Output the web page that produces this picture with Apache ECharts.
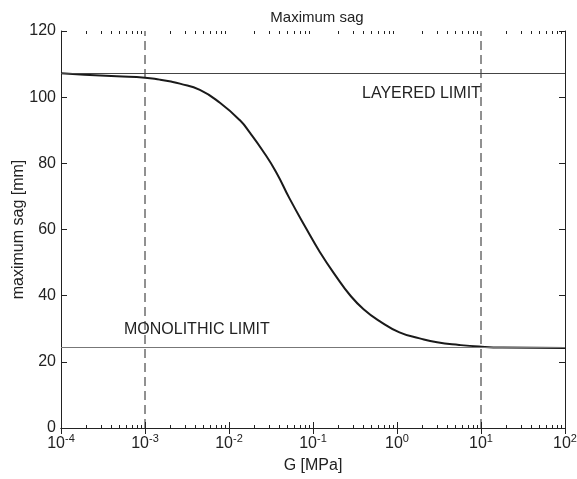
<!DOCTYPE html>
<html>
<head>
<meta charset="utf-8">
<script src="https://cdn.jsdelivr.net/npm/echarts@6/dist/echarts.min.js"></script>
<style>html,body{margin:0;padding:0;background:#fff}#c{width:577px;height:479px}</style>
</head>
<body>
<div id="c"></div>
<script>
const gValues = [1e-4, 1.9e-4, 4.6e-4, 1e-3, 1.5e-3, 1.95e-3, 2.6e-3, 4.5e-3, 7.8e-3, 0.0135, 0.0178, 0.0251, 0.0363, 0.0525, 0.083, 0.12, 0.19, 0.275, 0.4, 0.62, 1.07, 1.86, 3.0, 5.5, 9.5, 18, 100];
const sagValues = [107.2, 106.8, 106.3, 105.9, 105.3, 104.8, 104.1, 102.2, 98.3, 93.0, 89.2, 83.9, 77.4, 69.4, 60.3, 53.3, 45.7, 40.2, 35.9, 32.3, 28.9, 27.1, 25.9, 25.1, 24.6, 24.3, 24.2];
const layeredLimit = 107.2;
const monolithicLimit = 24.4;
const dashedG = [1e-3, 10];
const yRange = [0, 120];
const decades = [1e-4, 1e-3, 1e-2, 1e-1, 1, 10, 100];
const minorTicks = [];
decades.slice(0, -1).forEach(d => { for (let k = 2; k <= 9; k++) minorTicks.push(+(d * k).toPrecision(3)); });

const chart = echarts.init(document.getElementById('c'));
const font = 'Liberation Sans, Arial, sans-serif';
const axisCol = '#222';
function expLabel(v) {
  const e = Math.round(Math.log10(v));
  return '{b|10}{s|' + e + '}';
}
const baseX = {
  type: 'log', logBase: 10, min: 1e-4, max: 100, gridIndex: 0,
  axisLine: { show: true, lineStyle: { color: axisCol, width: 1 } },
  splitLine: { show: false }
};
const dashedSeries = dashedG.map(g => ({
  type: 'line', xAxisIndex: 0, yAxisIndex: 0,
  data: yRange.map(y => [g, y]),
  showSymbol: false, silent: true,
  lineStyle: { color: '#222', width: 1, type: [9, 5] }, z: 2
}));
chart.setOption({
  animation: false,
  title: {
    text: 'Maximum sag', left: 312, top: 5, textAlign: 'center',
    textStyle: { fontFamily: font, fontSize: 15, fontWeight: 'normal', color: '#222' }
  },
  grid: { left: 61, right: 12, top: 31, bottom: 51, containLabel: false, outerBoundsMode: 'none' },
  xAxis: [
    Object.assign({}, baseX, {
      position: 'bottom',
      name: 'G [MPa]', nameLocation: 'middle', nameGap: 30,
      nameTextStyle: { fontFamily: font, fontSize: 16, color: '#222' },
      axisTick: { show: true, inside: true, length: 6, lineStyle: { color: axisCol } },
      axisLabel: {
        show: true, margin: 5, formatter: expLabel, color: '#222',
        rich: {
          b: { fontFamily: font, fontSize: 16, color: '#222' },
          s: { fontFamily: font, fontSize: 11, color: '#222', padding: [0, 0, 11, 0] }
        }
      }
    }),
    Object.assign({}, baseX, {
      position: 'top',
      axisTick: { show: true, inside: true, length: 6, lineStyle: { color: axisCol } },
      axisLabel: { show: false }
    }),
    Object.assign({}, baseX, {
      position: 'bottom',
      axisLine: { show: false },
      axisTick: { show: true, inside: true, length: 3, customValues: minorTicks, lineStyle: { color: axisCol } },
      axisLabel: { show: false }
    }),
    Object.assign({}, baseX, {
      position: 'top',
      axisLine: { show: false },
      axisTick: { show: true, inside: true, length: 3, customValues: minorTicks, lineStyle: { color: axisCol } },
      axisLabel: { show: false }
    })
  ],
  yAxis: [
    {
      type: 'value', min: 0, max: 120, interval: 20, position: 'left',
      name: 'maximum sag [mm]', nameLocation: 'middle', nameGap: 34, nameMoveOverlap: false,
      nameTextStyle: { fontFamily: font, fontSize: 16, color: '#222' },
      axisLine: { show: true, lineStyle: { color: axisCol } },
      axisTick: { show: true, inside: true, length: 6, lineStyle: { color: axisCol } },
      axisLabel: { fontFamily: font, fontSize: 16, color: '#222', margin: 5 },
      splitLine: { show: false }
    },
    {
      type: 'value', min: 0, max: 120, interval: 20, position: 'right',
      axisLine: { show: true, lineStyle: { color: axisCol } },
      axisTick: { show: true, inside: true, length: 6, lineStyle: { color: axisCol } },
      axisLabel: { show: false },
      splitLine: { show: false }
    }
  ],
  graphic: [
    { type: 'text', left: 362, top: 86, style: { text: 'LAYERED LIMIT', fontFamily: font, fontSize: 16, fill: '#222' } },
    { type: 'text', left: 124, top: 322, style: { text: 'MONOLITHIC LIMIT', fontFamily: font, fontSize: 16, fill: '#222' } }
  ],
  series: [
    {
      type: 'line', xAxisIndex: 0, yAxisIndex: 0,
      data: gValues.map((g, i) => [g, sagValues[i]]),
      showSymbol: false, smooth: true,
      lineStyle: { color: '#1a1a1a', width: 2 },
      markLine: {
        silent: true, symbol: 'none', label: { show: false },
        data: [
          { yAxis: layeredLimit, lineStyle: { color: '#444', width: 1, type: 'solid' } },
          { yAxis: monolithicLimit, lineStyle: { color: '#777', width: 1, type: 'solid' } }
        ]
      },
      z: 3
    },
    ...dashedSeries
  ]
});
</script>
</body>
</html>
